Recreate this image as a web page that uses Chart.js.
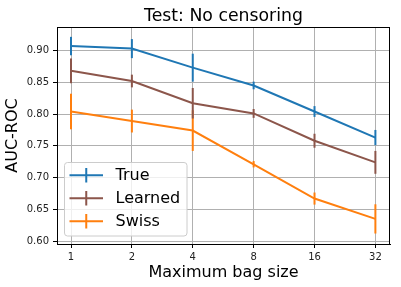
<!DOCTYPE html>
<html>
<head>
<meta charset="utf-8">
<script src="https://cdn.jsdelivr.net/npm/chart.js@4/dist/chart.umd.min.js"></script>
<style>
  html, body { margin: 0; padding: 0; background: #fff; }
  #wrap { width: 401px; height: 287px; }
</style>
</head>
<body>
<div id="wrap"><canvas id="chart" width="401" height="287"></canvas></div>
<script>
const bagSizes = [1, 2, 4, 8, 16, 32];
const yTicks = [0.60, 0.65, 0.70, 0.75, 0.80, 0.85, 0.90];
const chartTitle = "Test: No censoring";

const trueAuc = [0.907, 0.903, 0.873, 0.845, 0.804, 0.763];
const trueErr = [0.0145, 0.015, 0.022, 0.006, 0.0085, 0.012];
const learnedAuc = [0.868, 0.852, 0.817, 0.801, 0.758, 0.724];
const learnedErr = [0.0195, 0.010, 0.024, 0.007, 0.011, 0.018];
const swissAuc = [0.804, 0.789, 0.774, 0.721, 0.667, 0.635];
const swissErr = [0.028, 0.018, 0.032, 0.005, 0.0095, 0.023];

const FONT = "'DejaVu Sans', sans-serif";

function series(label, values, errs, color) {
    return {
        label: label,
        data: bagSizes.map((s, i) => ({ x: Math.log2(s), y: values[i] })),
        errors: errs,
        borderColor: color,
        backgroundColor: color,
        borderWidth: 2,
        pointRadius: 0,
        tension: 0,
        fill: false
    };
}

// vertical error bars, drawn through the y scale
const errorBars = {
    id: "errorBars",
    afterDatasetsDraw(chart) {
        const ctx = chart.ctx;
        const yScale = chart.scales.y;
        for (let i = chart.data.datasets.length - 1; i >= 0; i--) {
            const ds = chart.data.datasets[i];
            const meta = chart.getDatasetMeta(i);
            ctx.save();
            ctx.strokeStyle = ds.borderColor;
            ctx.lineWidth = 2;
            meta.data.forEach((pt, j) => {
                const v = ds.data[j].y;
                const e = ds.errors[j];
                ctx.beginPath();
                ctx.moveTo(pt.x, yScale.getPixelForValue(v + e));
                ctx.lineTo(pt.x, yScale.getPixelForValue(v - e));
                ctx.stroke();
            });
            ctx.restore();
        }
    }
};

// title over the plot, full box around the plot, legend in the lower left
const frameAndLegend = {
    id: "frameAndLegend",
    afterDraw(chart) {
        const ctx = chart.ctx;
        const a = chart.chartArea;
        ctx.save();
        ctx.fillStyle = "#000";
        ctx.font = "17.3px " + FONT;
        ctx.textAlign = "center";
        ctx.textBaseline = "alphabetic";
        ctx.fillText(chartTitle, (a.left + a.right) / 2, 20.7);

        ctx.strokeStyle = "#000";
        ctx.lineWidth = 1;
        ctx.strokeRect(Math.round(a.left) + 0.5, Math.round(a.top) + 0.5,
            Math.round(a.right - a.left) - 1, Math.round(a.bottom - a.top));

        const bx = a.left + 7.5, by = a.bottom - 81.5, bw = 122.5, bh = 73.5;
        ctx.globalAlpha = 0.8;
        ctx.fillStyle = "#fff";
        ctx.beginPath();
        ctx.roundRect(bx, by, bw, bh, 3);
        ctx.fill();
        ctx.globalAlpha = 1;
        ctx.strokeStyle = "#cccccc";
        ctx.stroke();

        ctx.font = "16px " + FONT;
        ctx.textBaseline = "middle";
        ctx.textAlign = "left";
        chart.data.datasets.forEach((ds, i) => {
            const cy = by + 12.7 + i * 23;
            const x0 = bx + 5, x1 = bx + 38.5, xm = (x0 + x1) / 2;
            ctx.strokeStyle = ds.borderColor;
            ctx.lineWidth = 2;
            ctx.beginPath();
            ctx.moveTo(x0, cy);
            ctx.lineTo(x1, cy);
            ctx.moveTo(xm, cy - 7.3);
            ctx.lineTo(xm, cy + 7.3);
            ctx.stroke();
            ctx.fillStyle = "#000";
            ctx.fillText(ds.label, bx + 51, cy + 1);
        });
        ctx.restore();
    }
};

const ctx = document.getElementById("chart").getContext("2d");
new Chart(ctx, {
    type: "line",
    data: {
        datasets: [
            series("True", trueAuc, trueErr, "#1f77b4"),
            series("Learned", learnedAuc, learnedErr, "#8c564b"),
            series("Swiss", swissAuc, swissErr, "#ff7f0e")
        ]
    },
    options: {
        responsive: false,
        animation: false,
        layout: { padding: { left: 0, right: 11, top: 27, bottom: 0 } },
        plugins: {
            legend: { display: false },
            tooltip: { enabled: false },
            title: { display: false }
        },
        scales: {
            x: {
                type: "linear",
                min: -0.23,
                max: 5.24,
                afterBuildTicks: (scale) => {
                    scale.ticks = bagSizes.map(s => ({ value: Math.log2(s) }));
                },
                afterFit: (scale) => { scale.height = 43; },
                ticks: {
                    color: "#222",
                    font: { family: FONT, size: 10 },
                    padding: 3,
                    maxRotation: 0,
                    callback: (v) => String(Math.round(Math.pow(2, v)))
                },
                grid: { color: "#b0b0b0", lineWidth: 1, tickColor: "#000", tickLength: 4 },
                border: { display: true, color: "#000", width: 1 },
                title: {
                    display: true,
                    text: "Maximum bag size",
                    color: "#000",
                    font: { family: FONT, size: 16 },
                    padding: { top: 0, bottom: 5 }
                }
            },
            y: {
                type: "linear",
                min: 0.5955,
                max: 0.937,
                afterBuildTicks: (scale) => {
                    scale.ticks = yTicks.map(v => ({ value: v }));
                },
                afterFit: (scale) => { scale.width = 57; },
                ticks: {
                    color: "#222",
                    font: { family: FONT, size: 10 },
                    padding: 4,
                    callback: (v) => v.toFixed(2)
                },
                grid: { color: "#b0b0b0", lineWidth: 1, tickColor: "#000", tickLength: 4 },
                border: { display: true, color: "#000", width: 1 },
                title: {
                    display: true,
                    text: "AUC-ROC",
                    color: "#000",
                    font: { family: FONT, size: 16 },
                    padding: { top: 3, bottom: 0 }
                }
            }
        }
    },
    plugins: [errorBars, frameAndLegend]
});
</script>
</body>
</html>
